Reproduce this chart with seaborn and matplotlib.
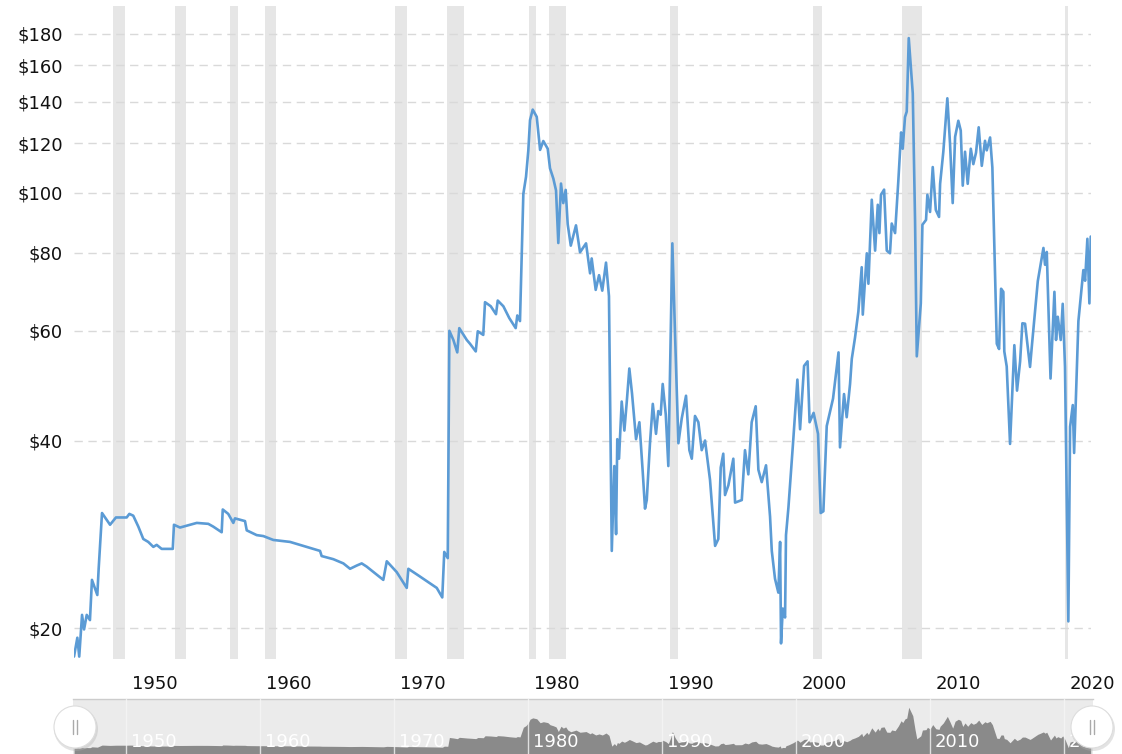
import pandas as pd
import matplotlib
matplotlib.use("Agg")
import matplotlib.pyplot as plt
import matplotlib.transforms as mtransforms
from matplotlib.patches import Circle
from matplotlib.ticker import NullLocator
import seaborn as sns

# Crude oil price, inflation adjusted
years = [
    1946.12, 1946.37, 1946.51, 1946.72, 1946.87, 1947.07, 1947.31, 1947.46, 1947.86, 1947.96,
    1948.21, 1948.81, 1949.25, 1950.05, 1950.25, 1950.54, 1950.92, 1951.29, 1951.66, 1952.04,
    1952.29, 1952.66, 1953.49, 1953.58, 1954.03, 1955.28, 1956.14, 1956.51, 1957.14, 1957.22,
    1957.63, 1958.01, 1958.13, 1958.88, 1959.01, 1959.75, 1960.25, 1960.99, 1962.24, 1963.23,
    1964.48, 1964.60, 1965.47, 1966.22, 1966.72, 1967.22, 1967.59, 1967.96, 1969.20, 1969.46,
    1970.20, 1970.95, 1971.07, 1971.81, 1973.19, 1973.60, 1973.75, 1974.01, 1974.13, 1974.43,
    1974.72, 1974.87, 1975.43, 1975.67, 1976.10, 1976.25, 1976.66, 1976.79, 1977.22, 1977.61,
    1977.74, 1978.16, 1978.60, 1979.08, 1979.20, 1979.40, 1979.65, 1979.85, 1980.02, 1980.15,
    1980.35, 1980.65, 1980.90, 1981.14, 1981.47, 1981.64, 1981.89, 1982.09, 1982.26, 1982.46,
    1982.63, 1982.81, 1982.96, 1983.19, 1983.58, 1983.88, 1984.33, 1984.63, 1984.75, 1985.05,
    1985.30, 1985.54, 1985.82, 1986.04, 1986.25, 1986.44, 1986.57, 1986.66, 1986.79, 1986.99,
    1987.19, 1987.37, 1987.56, 1987.76, 1988.06, 1988.31, 1988.56, 1988.73, 1988.86, 1989.10,
    1989.31, 1989.55, 1989.72, 1989.90, 1990.05, 1990.28, 1990.47, 1990.65, 1990.77, 1990.97,
    1991.22, 1991.47, 1991.79, 1992.04, 1992.22, 1992.46, 1992.71, 1992.96, 1993.21, 1993.58,
    1993.96, 1994.20, 1994.38, 1994.57, 1994.70, 1994.95, 1995.32, 1995.45, 1995.95, 1996.19,
    1996.44, 1996.69, 1996.99, 1997.19, 1997.44, 1997.76, 1998.06, 1998.19, 1998.43, 1998.68,
    1998.81, 1998.88, 1999.01, 1999.18, 1999.25, 1999.43, 1999.80, 2000.10, 2000.30, 2000.60,
    2000.86, 2001.01, 2001.31, 2001.64, 2001.84, 2002.04, 2002.29, 2002.76, 2003.17, 2003.28,
    2003.58, 2003.78, 2004.03, 2004.16, 2004.40, 2004.65, 2004.90, 2004.98, 2005.28, 2005.40,
    2005.65, 2005.90, 2006.10, 2006.22, 2006.34, 2006.57, 2006.77, 2007.01, 2007.14, 2007.39,
    2007.63, 2007.84, 2007.96, 2008.13, 2008.26, 2008.41, 2008.71, 2008.88, 2009.01, 2009.31,
    2009.43, 2009.70, 2009.80, 2010.00, 2010.20, 2010.43, 2010.67, 2010.75, 2010.99, 2011.29,
    2011.49, 2011.69, 2011.87, 2012.11, 2012.29, 2012.44, 2012.61, 2012.81, 2013.04, 2013.23,
    2013.43, 2013.63, 2013.86, 2014.10, 2014.23, 2014.48, 2014.65, 2014.98, 2015.15, 2015.30,
    2015.47, 2015.54, 2015.72, 2015.97, 2016.29, 2016.49, 2016.72, 2016.89, 2017.09, 2017.46,
    2017.59, 2018.04, 2018.21, 2018.46, 2018.58, 2018.71, 2018.99, 2019.28, 2019.40, 2019.53,
    2019.75, 2019.90, 2020.07, 2020.32, 2020.45, 2020.65, 2020.75, 2021.07, 2021.44, 2021.57,
    2021.74, 2021.89, 2021.99,
]
price = [
    18.0, 19.3, 18.0, 21.0, 19.9, 21.0, 20.6, 23.9, 22.6, 24.9,
    30.6, 29.3, 30.1, 30.1, 30.5, 30.3, 29.1, 27.8, 27.5, 27.0,
    27.2, 26.8, 26.8, 29.3, 29.0, 29.5, 29.4, 29.1, 28.5, 31.0,
    30.5, 29.5, 30.0, 29.7, 28.7, 28.2, 28.1, 27.7, 27.5, 27.1,
    26.6, 26.1, 25.8, 25.4, 24.9, 25.2, 25.4, 25.1, 23.9, 25.6,
    24.6, 23.2, 24.9, 24.3, 23.2, 22.4, 26.5, 25.9, 60.0, 58.0,
    55.4, 60.6, 58.0, 57.2, 55.6, 59.9, 59.1, 66.7, 65.7, 63.8,
    67.1, 65.7, 62.9, 60.6, 63.5, 62.2, 99.5, 106.0, 116.7, 130.7,
    135.9, 132.3, 117.1, 121.0, 117.6, 109.4, 105.3, 100.8, 83.0, 103.4,
    96.2, 101.0, 89.0, 82.2, 88.6, 80.2, 82.9, 74.2, 78.4, 69.8,
    73.7, 69.6, 77.2, 68.2, 26.6, 36.4, 28.3, 40.2, 37.4, 46.2,
    41.5, 46.2, 52.2, 47.6, 40.2, 42.8, 35.6, 31.1, 32.1, 39.6,
    45.8, 41.0, 44.6, 44.0, 49.3, 44.0, 36.4, 60.0, 82.9, 59.3,
    39.6, 43.4, 47.2, 38.6, 37.4, 43.8, 42.8, 38.6, 40.0, 34.6,
    27.1, 27.8, 36.2, 38.1, 32.7, 33.9, 37.4, 31.8, 32.1, 38.6,
    35.3, 42.8, 45.4, 35.9, 34.3, 36.5, 30.2, 26.6, 24.0, 22.8,
    27.5, 18.9, 21.5, 20.8, 28.2, 31.2, 40.3, 50.1, 41.7, 52.7,
    53.6, 42.8, 44.3, 41.0, 30.6, 30.8, 42.2, 46.7, 55.4, 39.0,
    47.5, 43.6, 49.3, 54.1, 58.5, 64.4, 75.9, 63.7, 79.9, 71.4,
    97.4, 80.7, 95.6, 86.1, 99.2, 101.1, 80.7, 79.9, 89.2, 86.1,
    104.2, 124.9, 117.6, 132.2, 134.9, 177.0, 144.3, 90.3, 54.6, 66.4,
    88.8, 90.4, 99.2, 93.1, 109.9, 93.8, 91.4, 103.3, 116.3, 141.7,
    119.9, 96.2, 122.9, 130.4, 125.8, 102.6, 116.3, 103.3, 117.6, 111.1,
    115.9, 127.3, 110.4, 121.1, 116.9, 122.6, 109.7, 57.2, 56.1, 70.1,
    69.3, 55.6, 52.6, 39.5, 56.9, 48.1, 53.6, 61.7, 61.6, 52.5,
    56.5, 72.1, 75.8, 81.5, 76.6, 80.3, 50.3, 69.3, 58.0, 63.2,
    58.0, 66.3, 52.5, 20.5, 42.1, 45.6, 38.2, 62.2, 75.1, 72.2,
    84.3, 66.4, 85.0,
]

# US recessions (shaded bands)
rec_start = [1949.05, 1953.66, 1957.76, 1960.40, 1970.07, 1973.93, 1980.10, 1981.57,
             1990.60, 2001.29, 2007.93, 2020.07]
rec_end = [1949.93, 1954.45, 1958.34, 1961.19, 1970.95, 1975.25, 1980.57, 1982.84,
           1991.17, 2001.92, 2009.42, 2020.32]

price_ticks = [20, 40, 60, 80, 100, 120, 140, 160, 180]
decades = [1950, 1960, 1970, 1980, 1990, 2000, 2010, 2020]

df = pd.DataFrame({"year": years, "price": price})

sns.set_style("white")
plt.rcParams["font.family"] = ["DejaVu Sans"]

W, H = 1122, 754
fig = plt.figure(figsize=(W / 100, H / 100), dpi=100)

# main chart
ax = fig.add_axes([74 / W, 95 / H, 1017 / W, 653 / H])
for a, b in zip(rec_start, rec_end):
    ax.axvspan(a, b, color="#e6e6e6", lw=0, zorder=0)

sns.lineplot(data=df, x="year", y="price", ax=ax, color="#5b9bd5",
             lw=1.9, estimator=None, sort=False, zorder=3)

ax.set_yscale("log")
ax.set_ylim(17.84, 199.3)
ax.set_xlim(1946.12, 2022.01)
ax.set_yticks(price_ticks)
ax.set_yticklabels([f"${v}" for v in price_ticks])
ax.yaxis.set_minor_locator(NullLocator())
ax.set_xticks(decades)
ax.set_xticklabels([str(d) for d in decades])
ax.set_xlabel("")
ax.set_ylabel("")
ax.yaxis.grid(True, color="#d9d9d9", lw=1, ls=(0, (6, 4)), zorder=1)
ax.xaxis.grid(False)
ax.tick_params(axis="y", length=0, labelsize=13, pad=8, labelcolor="#111111")
ax.tick_params(axis="x", length=0, labelsize=13, pad=11.5, labelcolor="#111111")
shift = mtransforms.ScaledTranslation(0.285, 0, fig.dpi_scale_trans)
for lab in ax.get_xticklabels():
    lab.set_transform(lab.get_transform() + shift)
sns.despine(ax=ax, left=True, bottom=True)

# navigator strip
nav = fig.add_axes([73 / W, 0, 1020 / W, 55 / H])
nav.set_facecolor("#ebebeb")
nav.fill_between(df["year"], df["price"], -10, color="#8a8a8a", lw=0, zorder=2)
nav.set_xlim(1946.04, 2022.16)
nav.set_ylim(-3.9, 208.9)
for d in decades:
    nav.axvline(d, color="#f6f6f6", lw=1, alpha=0.8, zorder=3)
    nav.text(d + 0.35, 0.22, str(d), color="white", fontsize=13, ha="left",
             va="center", transform=nav.get_xaxis_transform(), zorder=4)
nav.set_xticks([])
nav.set_yticks([])
for side in ["left", "right", "bottom"]:
    nav.spines[side].set_visible(False)
nav.spines["top"].set_color("#cccccc")
nav.spines["top"].set_linewidth(1)

# scroll handles
ov = fig.add_axes([0, 0, 1, 1], zorder=10)
ov.set_xlim(0, W)
ov.set_ylim(H, 0)
ov.axis("off")
ov.patch.set_alpha(0)
for cx in [75, 1092]:
    ov.add_patch(Circle((cx + 1, 729), 22, fc="#b0b0b0", ec="none", alpha=0.35))
    ov.add_patch(Circle((cx, 727), 21, fc="white", ec="#dddddd", lw=0.8))
    for dx in [-2, 2]:
        ov.plot([cx + dx, cx + dx], [720, 734], color="#aaaaaa", lw=1)

fig.savefig("out.png", dpi=100)
